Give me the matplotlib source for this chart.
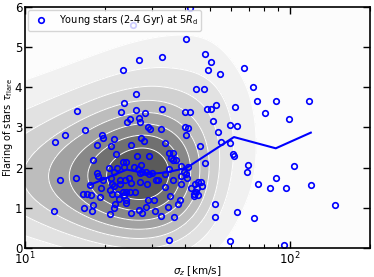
import numpy as np
import matplotlib
matplotlib.use("Agg")
import matplotlib.pyplot as plt
from matplotlib.ticker import NullFormatter

# young stars (2-4 Gyr) at 5 R_d : vertical velocity dispersion and flaring
sigma_z = [25.6, 40.4, 41.9, 27.0, 32.9, 23.4, 47.8, 50.1, 49.1, 54.3,
           66.9, 72.4, 44.3, 47.2, 26.2, 74.9, 88.3, 117.9, 80.2, 99.1,
           61.7, 52.7, 48.5, 50.1, 40.2, 41.8, 51.0, 59.1, 62.9, 40.2,
           41.3, 53.4, 15.7, 23.6, 23.1, 26.3, 28.3, 32.8, 24.9, 24.3,
           26.9, 27.1, 16.9, 29.1, 29.6, 32.6, 14.1, 19.5, 19.7, 21.7,
           27.3, 40.5, 13.0, 18.7, 21.1, 25.0, 28.0, 33.8, 45.8, 54.7,
           59.5, 60.8, 61.2, 34.9, 36.2, 35.5, 36.1, 37.0, 22.1, 18.0,
           23.5, 24.1, 26.5, 29.4, 47.9, 69.2, 68.6, 103.6, 20.8, 22.2,
           23.6, 25.8, 27.4, 38.8, 41.2, 15.6, 13.5, 18.7, 18.8, 21.6,
           21.1, 22.8, 22.8, 24.7, 26.6, 27.1, 27.7, 28.5, 29.4, 30.0,
           25.1, 27.1, 28.8, 31.2, 31.7, 33.8, 34.9, 36.3, 39.7, 40.5,
           38.7, 38.8, 40.7, 33.6, 42.3, 43.8, 44.8, 46.1, 46.4, 44.5,
           44.1, 44.8, 43.3, 43.3, 75.5, 84.1, 88.3, 96.8, 119.9, 147.7,
           17.6, 19.6, 19.4, 21.3, 21.6, 23.9, 17.8, 16.6, 17.2, 19.1,
           20.9, 21.3, 22.3, 22.6, 23.5, 24.1, 23.7, 24.1, 24.8, 26.0,
           24.0, 21.9, 21.6, 12.9, 16.7, 18.0, 17.9, 20.9, 25.0, 26.8,
           27.6, 28.5, 30.8, 30.7, 32.6, 34.7, 35.1, 36.6, 37.9, 38.3,
           29.1, 34.8, 52.1, 52.2, 63.1, 72.9, 59.1, 94.8]
tau_flare = [5.54, 5.21, 5.98, 4.67, 4.76, 4.42, 4.83, 4.63, 4.43, 4.34,
             4.47, 4.01, 3.95, 3.95, 3.82, 3.67, 3.65, 3.67, 3.35, 3.20,
             3.51, 3.57, 3.47, 3.47, 3.39, 3.39, 3.16, 3.07, 3.03, 3.01,
             2.99, 2.88, 3.42, 3.60, 3.38, 3.43, 3.35, 3.47, 3.20, 3.13,
             3.23, 3.14, 2.94, 3.01, 2.96, 2.96, 2.81, 2.81, 2.73, 2.72,
             2.74, 2.81, 2.63, 2.57, 2.53, 2.55, 2.66, 2.61, 2.54, 2.64,
             2.60, 2.34, 2.28, 2.36, 2.36, 2.24, 2.18, 2.18, 2.34, 2.19,
             2.14, 2.14, 2.29, 2.29, 2.11, 2.07, 1.89, 2.04, 1.98, 2.00,
             2.01, 2.01, 2.07, 2.03, 2.01, 1.75, 1.68, 1.86, 1.79, 1.89,
             1.74, 1.68, 1.60, 1.73, 1.97, 1.86, 1.90, 1.89, 1.84, 1.86,
             1.61, 1.63, 1.59, 1.69, 1.68, 1.84, 1.97, 1.68, 1.89, 1.84,
             1.78, 1.59, 1.75, 1.51, 1.48, 1.60, 1.65, 1.65, 1.55, 1.48,
             1.40, 1.31, 1.29, 1.35, 1.60, 1.48, 1.74, 1.49, 1.56, 1.06,
             1.57, 1.70, 1.50, 1.58, 1.54, 1.68, 1.31, 1.35, 1.33, 1.28,
             1.45, 1.35, 1.35, 1.22, 1.40, 1.39, 1.31, 1.20, 1.40, 1.40,
             1.11, 1.09, 1.00, 0.91, 1.00, 1.08, 0.93, 0.85, 0.88, 0.94,
             0.87, 1.01, 0.93, 1.20, 0.79, 1.02, 1.30, 0.77, 1.10, 1.20,
             1.20, 0.20, 1.10, 0.77, 0.90, 0.74, 0.16, 0.07]

# binned trend
trend_sigma = [17.6, 24.2, 29.5, 34.1, 40.6, 61.4, 88.3, 119.7]
trend_tau = [1.57, 1.95, 1.84, 1.88, 1.99, 2.76, 2.48, 2.87]

fig = plt.figure(figsize=(3.74, 2.77), dpi=100)
ax = fig.add_axes([0.067, 0.105, 0.922, 0.870])

# density of the sample (gaussian kde in linear sigma)
s = np.array(sigma_z)
t = np.array(tau_flare)
gx = np.logspace(1, np.log10(200), 300)
gy = np.linspace(0, 6, 200)
X, Y = np.meshgrid(gx, gy)
hx, hy = 11.0, 1.05
Z = np.exp(-0.5 * (((X[..., None] - s) / hx) ** 2 +
                   ((Y[..., None] - t) / hy) ** 2)).sum(-1)
levels = np.linspace(0, Z.max() * 1.0001, 10)
cols = plt.cm.Greys(np.linspace(0.03, 0.72, 9))
ax.contourf(X, Y, Z, levels=levels, colors=cols)
ax.contour(X, Y, Z, levels=levels[1:-1], colors='white', linewidths=0.7)

ax.plot(trend_sigma, trend_tau, '-', color='blue', lw=1.5)
ax.plot(sigma_z, tau_flare, 'o', mfc='none', mec='blue', mew=1.2, ms=4,
        label=r'Young stars (2-4 Gyr) at $5R_{\rm d}$')

ax.set_xscale('log')
ax.set_xlim(10, 200)
ax.set_ylim(0, 6)
ax.xaxis.set_minor_formatter(NullFormatter())
ax.tick_params(which='both', direction='in', top=True, right=True,
               labelsize=8.5, pad=2)
ax.tick_params(which='major', length=5, width=1)
ax.tick_params(which='minor', length=3, width=0.8)
for sp in ax.spines.values():
    sp.set_linewidth(1.2)

ax.set_xlabel(r'$\sigma_z$ [km/s]', fontsize=7.5, labelpad=-2.5)
ax.set_ylabel(r'Flaring of stars $\tau_{\rm flare}$', fontsize=7, labelpad=0)
ax.legend(loc='upper left', fontsize=7, numpoints=1, handletextpad=0.8,
          borderaxespad=0.3, borderpad=0.35)

fig.savefig('out.png', dpi=100)
